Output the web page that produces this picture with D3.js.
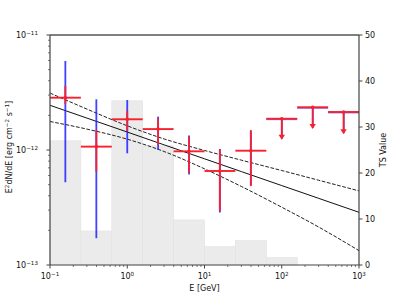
<!DOCTYPE html>
<html><head><meta charset="utf-8">
<script src="https://cdn.jsdelivr.net/npm/d3@7"></script>
<style>body{margin:0;background:#fff}svg{display:block;font-family:"DejaVu Sans",sans-serif}</style>
</head><body><svg id="c" width="399" height="299"></svg>
<script>
// ---- data ----
const binEdges = [0.1, 0.251, 0.631, 1.585, 3.981, 10, 25.1, 63.1, 158.5, 398.1, 1000];
const tsValues = [27, 7.4, 35.7, 25.9, 9.8, 4.0, 5.3, 1.6, 0, 0];
const energy = [0.158, 0.398, 1.0, 2.51, 6.31, 15.8, 39.8, 100, 251, 631];
const flux    = [2.85e-12, 1.07e-12, 1.85e-12, 1.52e-12, 9.74e-13, 6.57e-13, 9.86e-13, 1.87e-12, 2.35e-12, 2.14e-12];
const redLo   = [2.51e-12, 6.48e-13, 1.46e-12, 1.105e-12, 6.31e-13, 2.95e-13, 4.86e-13, null, null, null];
const redHi   = [3.60e-12, 1.49e-12, 2.18e-12, 1.88e-12, 1.31e-12, 1.01e-12, 1.49e-12, null, null, null];
const blueLo  = [5.24e-13, 1.71e-13, 9.36e-13, 1.0e-12, 6.12e-13, 2.86e-13, 4.96e-13, null, null, null];
const blueHi  = [5.94e-12, 2.76e-12, 2.72e-12, 1.95e-12, 1.34e-12, 1.02e-12, 1.46e-12, null, null, null];
const isUpperLimit = [false, false, false, false, false, false, false, true, true, true];
const ulArrowEnd = [null, null, null, null, null, null, null, 1.25e-12, 1.55e-12, 1.40e-12];
const modelE     = [0.1, 0.3, 1, 3, 10, 30, 100, 300, 1000];
const modelFlux  = [2.447e-12, 1.895e-12, 1.433e-12, 1.109e-12, 8.385e-13, 6.49e-13, 4.906e-13, 3.80e-13, 2.872e-13];
const modelUpper = [3.125e-12, 2.27e-12, 1.624e-12, 1.248e-12, 9.91e-13, 8.16e-13, 6.63e-13, 5.46e-13, 4.41e-13];
const modelLower = [1.769e-12, 1.52e-12, 1.242e-12, 0.970e-12, 6.86e-13, 4.82e-13, 3.18e-13, 2.14e-13, 1.333e-13];
const xTickExp = [-1, 0, 1, 2, 3];
const yTickExp = [-13, -12, -11];
const tsTicks = [0, 10, 20, 30, 40, 50];

// ---- layout ----
const L = 50, R = 359, T = 35, B = 265;
const svg = d3.select("#c");
const x = d3.scaleLog().domain([0.1, 1000]).range([L, R]);
const y = d3.scaleLog().domain([1e-13, 1e-11]).range([B, T]);
const yTS = d3.scaleLinear().domain([0, 50]).range([B, T]);

// TS histogram
const bars = svg.append("g");
tsValues.forEach((v, i) => {
  if (v <= 0) return;
  bars.append("rect")
    .attr("x", x(binEdges[i])).attr("width", x(binEdges[i+1]) - x(binEdges[i]))
    .attr("y", yTS(v)).attr("height", yTS(0) - yTS(v))
    .attr("fill", "#ebebeb").attr("stroke", "#e2e2e2").attr("stroke-width", 0.6);
});

// model lines
const line = d3.line().x(d => x(d[0])).y(d => y(d[1])).curve(d3.curveMonotoneX);
svg.append("clipPath").attr("id", "pc").append("rect")
  .attr("x", L).attr("y", T).attr("width", R - L).attr("height", B - T);
const lg = svg.append("g").attr("clip-path", "url(#pc)");
lg.append("path").attr("d", line(modelE.map((e, i) => [e, modelFlux[i]])))
  .attr("fill", "none").attr("stroke", "#111").attr("stroke-width", 1);
[modelUpper, modelLower].forEach(arr => {
  lg.append("path").attr("d", line(modelE.map((e, i) => [e, arr[i]])))
    .attr("fill", "none").attr("stroke", "#222").attr("stroke-width", 1)
    .attr("stroke-dasharray", "3.7,1.6");
});

// data points
const pg = svg.append("g");
const blue = "#2020ff", red = "#f7202f";
energy.forEach((e, i) => {
  const cx = x(e), x0 = x(binEdges[i]), x1 = x(binEdges[i+1]);
  if (!isUpperLimit[i]) {
    pg.append("line").attr("x1", cx).attr("x2", cx).attr("y1", y(blueLo[i])).attr("y2", y(blueHi[i]))
      .attr("stroke", blue).attr("stroke-width", 1.8).attr("opacity", 0.85);
  } else {
    pg.append("line").attr("x1", x0).attr("x2", x1).attr("y1", y(flux[i]) + 0.4).attr("y2", y(flux[i]) + 0.4)
      .attr("stroke", blue).attr("stroke-width", 2).attr("opacity", 0.6);
    pg.append("line").attr("x1", cx + 0.4).attr("x2", cx + 0.4).attr("y1", y(flux[i])).attr("y2", y(ulArrowEnd[i]))
      .attr("stroke", blue).attr("stroke-width", 1.8).attr("opacity", 0.6);
  }
});
energy.forEach((e, i) => {
  const cx = x(e), cy = y(flux[i]), x0 = x(binEdges[i]), x1 = x(binEdges[i+1]);
  pg.append("line").attr("x1", x0).attr("x2", x1).attr("y1", cy).attr("y2", cy)
    .attr("stroke", red).attr("stroke-width", 1.9);
  if (!isUpperLimit[i]) {
    pg.append("line").attr("x1", cx).attr("x2", cx).attr("y1", y(redLo[i])).attr("y2", y(redHi[i]))
      .attr("stroke", red).attr("stroke-width", 1.8);
  } else {
    const ye = y(ulArrowEnd[i]);
    pg.append("line").attr("x1", cx).attr("x2", cx).attr("y1", cy).attr("y2", ye - 3)
      .attr("stroke", red).attr("stroke-width", 1.8);
    pg.append("path").attr("d", `M${cx - 3.2},${ye - 4}L${cx + 3.2},${ye - 4}L${cx},${ye + 1}Z`)
      .attr("fill", red);
  }
  pg.append("circle").attr("cx", cx).attr("cy", cy).attr("r", 1.8).attr("fill", red);
});

// axes
const ax = svg.append("g");
const spine = "#444";
ax.append("line").attr("x1", L).attr("x2", R).attr("y1", T).attr("y2", T).attr("stroke", "#000").attr("stroke-width", 1);
ax.append("line").attr("x1", L).attr("x2", L).attr("y1", T).attr("y2", B).attr("stroke", spine).attr("stroke-width", 1.2);
ax.append("line").attr("x1", R).attr("x2", R).attr("y1", T).attr("y2", B).attr("stroke", spine).attr("stroke-width", 1.2);
ax.append("line").attr("x1", L).attr("x2", R).attr("y1", B).attr("y2", B).attr("stroke", spine).attr("stroke-width", 1.2);

const fs = 8;
function sup(g, base, exp, px, py, anchor) {
  const t = g.append("text").attr("x", px).attr("y", py).attr("font-size", fs).attr("fill", "#111").attr("text-anchor", anchor);
  t.append("tspan").text(base);
  t.append("tspan").attr("dy", -3.5).attr("font-size", 5.6).text(exp);
  return t;
}
// x ticks
xTickExp.forEach(p => {
  const v = Math.pow(10, p), px = x(v);
  ax.append("line").attr("x1", px).attr("x2", px).attr("y1", B).attr("y2", B + 3.5).attr("stroke", spine);
  if (p < 3) for (let m = 2; m <= 9; m++) {
    const mx = x(m * v);
    ax.append("line").attr("x1", mx).attr("x2", mx).attr("y1", B).attr("y2", B + 2).attr("stroke", spine).attr("stroke-width", 0.7);
  }
  sup(ax, "10", p < 0 ? "\u2212" + (-p) : String(p), px, B + 14, "middle");
});
// left y ticks
yTickExp.forEach(p => {
  const v = Math.pow(10, p), py = y(v);
  ax.append("line").attr("x1", L - 3.5).attr("x2", L).attr("y1", py).attr("y2", py).attr("stroke", spine);
  if (p < -11) for (let m = 2; m <= 9; m++) {
    const my = y(m * v);
    ax.append("line").attr("x1", L - 2).attr("x2", L).attr("y1", my).attr("y2", my).attr("stroke", spine).attr("stroke-width", 0.7);
  }
  sup(ax, "10", "\u2212" + (-p), L - 12, py + 3, "end");
});
// right TS ticks
tsTicks.forEach(t => {
  const py = yTS(t);
  ax.append("line").attr("x1", R).attr("x2", R + 3.5).attr("y1", py).attr("y2", py).attr("stroke", spine);
  ax.append("text").attr("x", R + 6).attr("y", py + 3).attr("font-size", fs).attr("fill", "#111").text(t);
});

// labels
svg.append("text").attr("x", (L + R) / 2).attr("y", 291).attr("text-anchor", "middle").attr("font-size", fs).attr("fill", "#111").text("E [GeV]");
const yl = svg.append("text").attr("transform", `translate(12,147) rotate(-90)`).attr("text-anchor", "middle").attr("font-size", fs).attr("fill", "#111");
yl.append("tspan").text("E");
yl.append("tspan").attr("dy", -3).attr("font-size", 5.6).text("2");
yl.append("tspan").attr("dy", 3).text("dN/dE [erg cm");
yl.append("tspan").attr("dy", -3).attr("font-size", 5.6).text("\u22122");
yl.append("tspan").attr("dy", 3).text(" s");
yl.append("tspan").attr("dy", -3).attr("font-size", 5.6).text("\u22121");
yl.append("tspan").attr("dy", 3).text("]");
svg.append("text").attr("transform", `translate(386,${(T + B) / 2}) rotate(-90)`).attr("text-anchor", "middle").attr("font-size", fs).attr("fill", "#111").text("TS Value");
</script></body></html>
